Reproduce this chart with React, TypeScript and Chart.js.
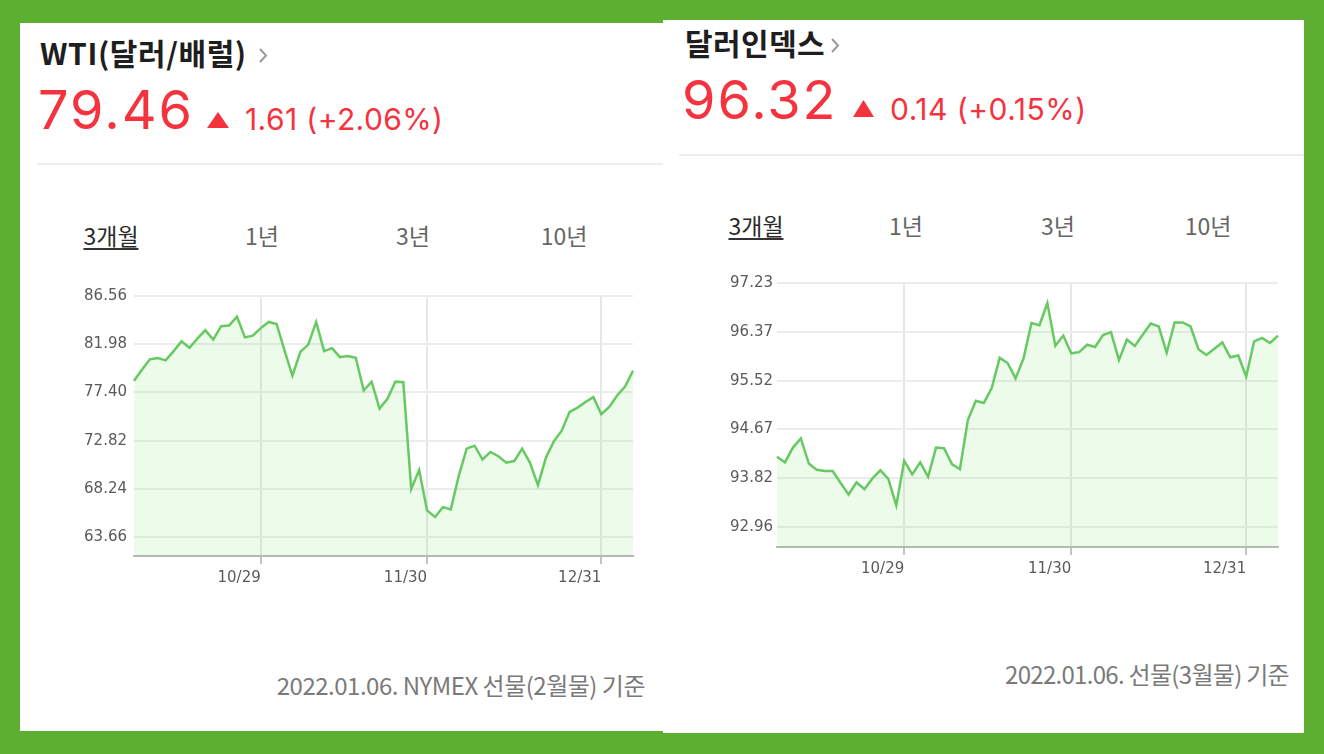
import React, { useEffect, useRef } from "react";
import { Chart, registerables } from "chart.js";

Chart.register(...registerables);

// ---------- data ----------
const dates = [
  "10/07", "10/08", "10/11", "10/12", "10/13", "10/14", "10/15", "10/18", "10/19", "10/20",
  "10/21", "10/22", "10/25", "10/26", "10/27", "10/28", "10/29",
  "11/01", "11/02", "11/03", "11/04", "11/05", "11/08", "11/09", "11/10", "11/11", "11/12",
  "11/15", "11/16", "11/17", "11/18", "11/19", "11/22", "11/23", "11/24", "11/26", "11/29", "11/30",
  "12/01", "12/02", "12/03", "12/06", "12/07", "12/08", "12/09", "12/10", "12/13", "12/14",
  "12/15", "12/16", "12/17", "12/20", "12/21", "12/22", "12/23", "12/27", "12/28", "12/29",
  "12/30", "12/31",
  "01/03", "01/04", "01/05", "01/06",
];
const labeledDates = ["10/29", "11/30", "12/31"];

const wtiValues = [
  78.52, 79.55, 80.55, 80.67, 80.45, 81.33, 82.26, 81.64, 82.51, 83.32,
  82.42, 83.69, 83.76, 84.6, 82.63, 82.79, 83.51, 84.1, 83.91, 81.4,
  78.99, 81.26, 81.95, 84.1, 81.33, 81.61, 80.76, 80.86, 80.7, 77.59,
  78.43, 75.87, 76.81, 78.43, 78.37, 68.24, 70.05, 66.21, 65.59, 66.52,
  66.31, 69.48, 72.07, 72.35, 71.04, 71.76, 71.35, 70.73, 70.89, 72.07,
  70.73, 68.61, 71.2, 72.76, 73.78, 75.56, 75.97, 76.5, 76.96, 75.34,
  76.03, 77.12, 77.96, 79.46,
];
const wtiTicks = [63.66, 68.24, 72.82, 77.4, 81.98, 86.56];
const wtiMin = 61.88;
const wtiMax = 86.56;

const dxyValues = [
  94.19, 94.09, 94.35, 94.51, 94.07, 93.96, 93.94, 93.94, 93.73, 93.53,
  93.74, 93.62, 93.81, 93.95, 93.8, 93.34, 94.12, 93.88, 94.09, 93.84,
  94.35, 94.34, 94.06, 93.97, 94.83, 95.17, 95.13, 95.39, 95.92, 95.83,
  95.56, 95.91, 96.53, 96.49, 96.88, 96.13, 96.31, 96.0, 96.02, 96.15,
  96.11, 96.32, 96.37, 95.88, 96.24, 96.13, 96.33, 96.52, 96.47, 96.01,
  96.54, 96.54, 96.47, 96.07, 95.97, 96.08, 96.19, 95.93, 95.96, 95.59,
  96.21, 96.27, 96.18, 96.31,
];
const dxyTicks = [92.96, 93.82, 94.67, 95.52, 96.37, 97.23];
const dxyMin = 92.61;
const dxyMax = 97.23;

const tabs = ["3개월", "1년", "3년", "10년"];

// ---------- styles ----------
const RED = "#f5333f";
const GREEN_BG = "#5daf32";
const LINE = "#66c962";
const FILL = "rgba(110, 225, 80, 0.12)";

type ChartProps = {
  values: number[];
  yTicks: number[];
  yMin: number;
  yMax: number;
  x: number;
  y: number;
  w: number;
  h: number;
  yAxisWidth: number;
  yLabelPad: number;
  padTop: number;
  padRight: number;
  xAxisHeight: number;
};

function LineChart(p: ChartProps) {
  const ref = useRef<HTMLCanvasElement>(null);
  useEffect(() => {
    const isLabeled = (i: number) => labeledDates.includes(dates[i]);
    const chart = new Chart(ref.current as HTMLCanvasElement, {
      type: "line",
      data: {
        labels: dates,
        datasets: [
          {
            data: p.values,
            borderColor: LINE,
            borderWidth: 2.5,
            backgroundColor: FILL,
            fill: "start",
            pointRadius: 0,
            tension: 0,
          },
        ],
      },
      options: {
        animation: false,
        responsive: false,
        maintainAspectRatio: false,
        layout: { padding: { top: p.padTop, right: p.padRight, left: 0, bottom: 0 } },
        plugins: { legend: { display: false }, tooltip: { enabled: false } },
        scales: {
          x: {
            type: "category",
            grid: {
              color: (ctx: any) => (isLabeled(ctx.index) ? "#e6e6e6" : "rgba(0,0,0,0)"),
              tickColor: (ctx: any) => (isLabeled(ctx.index) ? "#c4c4c4" : "rgba(0,0,0,0)"),
              lineWidth: 2,
              tickLength: 8,
            },
            border: { display: true, color: "#b8b8b8", width: 2 },
            ticks: {
              autoSkip: false,
              maxRotation: 0,
              minRotation: 0,
              align: "end",
              padding: 5,
              color: "#5a5a5a",
              font: { family: "DejaVu Sans", size: 15 },
              callback: (_v: any, i: number) => (isLabeled(i) ? dates[i] : ""),
            },
            afterFit: (s: any) => {
              s.height = p.xAxisHeight;
            },
          },
          y: {
            min: p.yMin,
            max: p.yMax,
            afterBuildTicks: (s: any) => {
              s.ticks = p.yTicks.map((v) => ({ value: v }));
            },
            grid: { color: "#ececec", lineWidth: 2, drawTicks: false },
            border: { display: false },
            ticks: {
              padding: p.yLabelPad,
              color: "#5a5a5a",
              font: { family: "DejaVu Sans", size: 15 },
              callback: (v: any) => Number(v).toFixed(2),
            },
            afterFit: (s: any) => {
              s.width = p.yAxisWidth;
            },
          },
        },
      },
    } as any);
    return () => chart.destroy();
  }, []);
  return (
    <canvas
      ref={ref}
      width={p.w}
      height={p.h}
      style={{ position: "absolute", left: p.x, top: p.y, width: p.w, height: p.h }}
    />
  );
}

const abs = (left: number, top: number, extra: React.CSSProperties = {}): React.CSSProperties => ({
  position: "absolute",
  left,
  top,
  lineHeight: 1,
  whiteSpace: "nowrap",
  ...extra,
});

function Chevron({ x, y }: { x: number; y: number }) {
  return (
    <svg style={{ position: "absolute", left: x, top: y }} width={11} height={17}>
      <polyline points="2,2 8,8.5 2,15" fill="none" stroke="#9a9a9a" strokeWidth={2} />
    </svg>
  );
}

function Triangle({ x, y, w, h }: { x: number; y: number; w: number; h: number }) {
  return (
    <svg style={{ position: "absolute", left: x, top: y }} width={w} height={h}>
      <polygon points={`${w / 2},0 ${w},${h} 0,${h}`} fill={RED} />
    </svg>
  );
}

function Tabs({ y, centers, underlineY }: { y: number; centers: number[]; underlineY: number }) {
  return (
    <>
      {tabs.map((t, i) => (
        <div
          key={t}
          style={abs(centers[i], y, {
            transform: "translateX(-50%)",
            fontFamily: "'Noto Sans CJK KR'",
            fontSize: 23,
            color: i === 0 ? "#2a2a2a" : "#666",
            letterSpacing: 0,
          })}
        >
          {t}
          {i === 0 && (
            <div
              style={{
                position: "absolute",
                left: 0,
                right: 0,
                top: underlineY - y,
                height: 2,
                background: "#333",
              }}
            />
          )}
        </div>
      ))}
    </>
  );
}

export default function App() {
  const KR = "'Noto Sans CJK KR'";
  return (
    <div
      style={{
        position: "fixed",
        left: 0,
        top: 0,
        width: 1324,
        height: 754,
        background: GREEN_BG,
        overflow: "hidden",
      }}
    >
      {/* left panel */}
      <div style={{ position: "absolute", left: 20, top: 23, width: 643, height: 708, background: "#fff" }} />
      {/* right panel */}
      <div style={{ position: "absolute", left: 663, top: 20, width: 641, height: 713, background: "#fff" }} />

      {/* ---- left panel content ---- */}
      <div style={abs(40, 37, { fontFamily: KR, fontWeight: 700, fontSize: 30, color: "#1e1e1e", letterSpacing: 0.6 })}>
        WTI(달러/배럴)
      </div>
      <Chevron x={258} y={47} />
      <div style={abs(38, 83, { fontFamily: "Inter", fontSize: 54, color: RED, letterSpacing: 2 })}>79.46</div>
      <Triangle x={207} y={112} w={22} h={16} />
      <div style={abs(245, 104, { fontFamily: "Inter", fontSize: 30, color: RED, letterSpacing: 0.4 })}>
        1.61 (+2.06%)
      </div>
      <div style={{ position: "absolute", left: 37, top: 163, width: 626, height: 2, background: "#eeeeee" }} />
      <Tabs y={224} centers={[111, 262, 413, 564]} underlineY={248} />
      <LineChart
        values={wtiValues}
        yTicks={wtiTicks}
        yMin={wtiMin}
        yMax={wtiMax}
        x={70}
        y={280}
        w={580}
        h={320}
        yAxisWidth={64}
        yLabelPad={7}
        padTop={13}
        padRight={17}
        xAxisHeight={44}
      />
      <div
        style={abs(0, 673, {
          width: 645,
          textAlign: "right",
          fontFamily: KR,
          fontSize: 24,
          color: "#7a7a7a",
          letterSpacing: -0.5,
        })}
      >
        2022.01.06. NYMEX 선물(2월물) 기준
      </div>

      {/* ---- right panel content ---- */}
      <div style={abs(685, 27, { fontFamily: KR, fontWeight: 700, fontSize: 30, color: "#1e1e1e", letterSpacing: 0.4 })}>
        달러인덱스
      </div>
      <Chevron x={830} y={37} />
      <div style={abs(682, 73, { fontFamily: "Inter", fontSize: 54, color: RED, letterSpacing: 2 })}>96.32</div>
      <Triangle x={853} y={100} w={21} h={17} />
      <div style={abs(890, 94, { fontFamily: "Inter", fontSize: 30, color: RED, letterSpacing: 0.5 })}>
        0.14 (+0.15%)
      </div>
      <div style={{ position: "absolute", left: 679, top: 154, width: 625, height: 2, background: "#eeeeee" }} />
      <Tabs y={214} centers={[756, 906, 1058, 1208]} underlineY={238} />
      <LineChart
        values={dxyValues}
        yTicks={dxyTicks}
        yMin={dxyMin}
        yMax={dxyMax}
        x={710}
        y={270}
        w={590}
        h={320}
        yAxisWidth={67}
        yLabelPad={4}
        padTop={13}
        padRight={22}
        xAxisHeight={43}
      />
      <div
        style={abs(0, 662, {
          width: 1289,
          textAlign: "right",
          fontFamily: KR,
          fontSize: 24,
          color: "#7a7a7a",
          letterSpacing: -0.7,
        })}
      >
        2022.01.06. 선물(3월물) 기준
      </div>
    </div>
  );
}
